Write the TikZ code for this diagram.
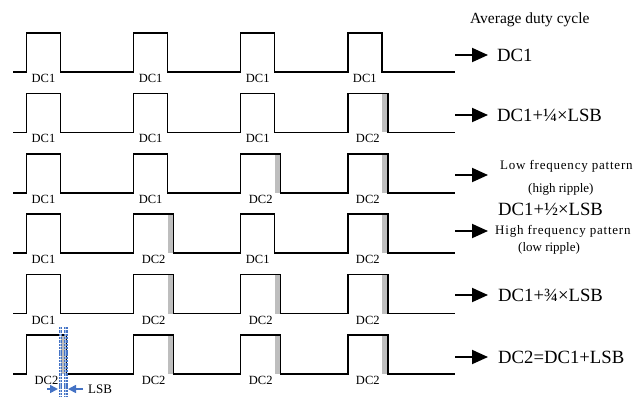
\documentclass[tikz,border=0pt]{standalone}
\usepackage{fontspec}
\setmainfont{Liberation Serif}
\usetikzlibrary{arrows.meta}
\definecolor{lsbblue}{RGB}{68,114,196}
\definecolor{lsblight}{RGB}{160,188,228}
\definecolor{barg}{RGB}{190,190,190}
\begin{document}
\begin{tikzpicture}[x=1pt,y=-1pt,
  sig/.style={line width=1.5pt, line join=miter},
  lbl/.style={font=\fontsize{12.5}{12.5}\selectfont, inner sep=0pt},
  big/.style={font=\fontsize{18.7}{18.7}\selectfont, anchor=west, inner sep=0pt},
  small/.style={font=\fontsize{13}{13}\selectfont, anchor=west, inner sep=0pt},
  outarrow/.style={-{Triangle[length=16pt,width=14pt]}, line width=1.9pt},
  lsbline/.style={lsbblue, line width=3.8pt, dash pattern=on 2.4pt off 0.9pt},
  lsbcore/.style={lsblight, line width=1.1pt, dash pattern=on 2.4pt off 0.9pt},
  lsbarrow/.style={lsbblue, line width=1.6pt, -{Triangle[length=8pt,width=8pt]}}]
\useasboundingbox (0,0) rectangle (637,397);

% rows: index/pattern (1 = DC1 width 34, 2 = DC2 width 40)
\foreach \r/\pa/\pb/\pc/\pd in {0/1/1/1/1, 1/1/1/1/2, 2/1/1/2/2, 3/1/2/1/2, 4/1/2/2/2, 5/2/2/2/2}{
  \pgfmathsetmacro{\bt}{72+60.4*\r}
  \pgfmathsetmacro{\tp}{33+60.4*\r}
  \foreach \k/\p in {0/\pa,1/\pb,2/\pc,3/\pd}{
    \pgfmathsetmacro{\xo}{26.5+107.1*\k}
    \pgfmathsetmacro{\w}{\p==1 ? 34 : 40}
    \ifnum\p=2
      \fill[barg] (\xo+34,\tp) rectangle (\xo+40,\bt);
    \fi
    \node[lbl, anchor=north] (l\r\k) at (\xo+\w/2,\bt+2) {DC\p};
  }
  \draw[sig] (13,\bt)
    \foreach \k/\p in {0/\pa,1/\pb,2/\pc,3/\pd}{
      \pgfextra{\pgfmathsetmacro{\xo}{26.5+107.1*\k}\pgfmathsetmacro{\w}{\p==1 ? 34 : 40}}
      -- (\xo,\bt) -- (\xo,\tp) -- (\xo+\w,\tp) -- (\xo+\w,\bt)
    } -- (455,\bt);
}

% right column
\node[font=\fontsize{15.5}{15.5}\selectfont, anchor=west, inner sep=0pt] (title) at (470,20) {Average duty cycle};

\coordinate (a1) at (455,55);
\node[big] (t1) at (497,55) {DC1};
\draw[outarrow] (a1) -- ([xshift=-9pt]t1.west);

\coordinate (a2) at (455,115);
\node[big] (t2) at (497,115) {DC1+¼×LSB};
\draw[outarrow] (a2) -- ([xshift=-9pt]t2.west);

\coordinate (a3) at (455,175);
\node[small] (t3) at (500,166) {\addfontfeatures{LetterSpace=6}Low frequency pattern};
\node[small] (t3b) at (528,189) {(high ripple)};
\draw[outarrow] (a3) -- ([xshift=-12pt]t3.west |- a3);

\node[big] (tmid) at (498,209) {DC1+½×LSB};

\coordinate (a4) at (455,231);
\node[small] (t4) at (495,231) {\addfontfeatures{LetterSpace=6}High frequency pattern};
\node[small] (t4b) at (518,248) {(low ripple)};
\draw[outarrow] (a4) -- ([xshift=-7pt]t4.west);

\coordinate (a5) at (455,295);
\node[big] (t5) at (498,295) {DC1+¾×LSB};
\draw[outarrow] (a5) -- ([xshift=-10pt]t5.west);

\coordinate (a6) at (455,357);
\node[big] (t6) at (498,357) {DC2=DC1+LSB};
\draw[outarrow] (a6) -- ([xshift=-10pt]t6.west);

% LSB marker
\coordinate (d1t) at (60.4,327);
\coordinate (d1b) at (60.4,397);
\coordinate (d2t) at (65.6,327);
\coordinate (d2b) at (65.6,397);
\draw[lsbline] (d1t) -- (d1b);
\draw[lsbline] (d2t) -- (d2b);
\draw[lsbcore] (d1t) -- (d1b);
\draw[lsbcore] (d2t) -- (d2b);
\coordinate (la) at (47,389);
\coordinate (ra) at (83,389);
\draw[lsbarrow] (la) -- (58,389);
\draw[lsbarrow] (ra) -- (68,389);
\node[font=\fontsize{13}{13}\selectfont, inner sep=0pt, anchor=west] (lsb) at (88,389) {LSB};
\end{tikzpicture}
\end{document}
